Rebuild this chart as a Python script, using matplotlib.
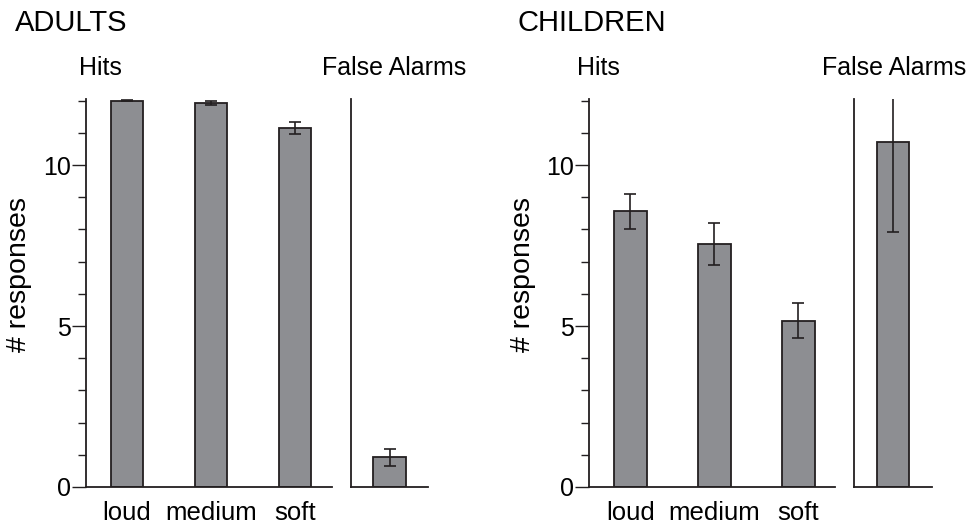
import matplotlib
matplotlib.use("Agg")
import matplotlib.pyplot as plt
from matplotlib.ticker import MultipleLocator

plt.rcParams['font.family'] = ['Liberation Sans', 'DejaVu Sans']

# data
conditions = ['loud', 'medium', 'soft']
adult_hits = [12.0, 11.92, 11.15]
adult_hits_err = [0.02, 0.07, 0.2]
adult_fa = [0.92]
adult_fa_err = [0.26]
child_hits = [8.56, 7.54, 5.17]
child_hits_err = [0.54, 0.65, 0.53]
child_fa = [10.73]
child_fa_err = [2.81]

bar_color = '#8d8e92'
W, H = 970, 529


def fx(px):
    return px / W


def fy(py):
    return 1 - py / H


fig = plt.figure(figsize=(9.7, 5.29), dpi=100)

bottom = fy(487)
height = fy(98.7) - bottom


def style_axis(ax):
    ax.spines['top'].set_visible(False)
    ax.spines['right'].set_visible(False)
    for s in ('left', 'bottom'):
        ax.spines[s].set_linewidth(1.3)
        ax.spines[s].set_color('#231f20')
    ax.set_ylim(0, 12.06)


def draw_group(left_px, hits, hits_err, fa, fa_err):
    ax = fig.add_axes([fx(left_px), bottom, fx(246), height])
    style_axis(ax)
    x = list(range(len(conditions)))
    ax.bar(x, hits, width=0.387, color=bar_color, edgecolor='#231f20', linewidth=1.3)
    ax.errorbar(x, hits, yerr=hits_err, fmt='none', ecolor='#231f20',
                elinewidth=1.2, capsize=4.5, capthick=1.2)
    ax.set_xlim(-0.488, 2.44)
    ax.set_xticks(x)
    ax.set_xticklabels(conditions, fontsize=18.5)
    ax.tick_params(axis='x', length=0, pad=10)
    ax.yaxis.set_major_locator(MultipleLocator(5))
    ax.yaxis.set_minor_locator(MultipleLocator(1))
    ax.tick_params(axis='y', which='major', length=10, width=1.0, labelsize=18,
                   pad=1, color='#231f20')
    ax.tick_params(axis='y', which='minor', length=5.5, width=1.0, color='#231f20')
    ax.set_ylabel('# responses', fontsize=20.5)
    ax.yaxis.set_label_coords(-0.218, 0.547)

    ax2 = fig.add_axes([fx(left_px + 264.7), bottom, fx(77.6), height])
    style_axis(ax2)
    ax2.bar([0], fa, width=0.387, color=bar_color, edgecolor='#231f20', linewidth=1.3)
    ax2.errorbar([0], fa, yerr=fa_err, fmt='none', ecolor='#231f20',
                 elinewidth=1.2, capsize=4.5, capthick=1.2)
    ax2.set_xlim(-0.464, 0.46)
    ax2.set_xticks([])
    ax2.set_yticks([])
    return ax, ax2


draw_group(86, adult_hits, adult_hits_err, adult_fa, adult_fa_err)
draw_group(589.3, child_hits, child_hits_err, child_fa, child_fa_err)

fig.text(fx(15), fy(23), 'ADULTS', fontsize=21, va='center', ha='left')
fig.text(fx(518), fy(23), 'CHILDREN', fontsize=21, va='center', ha='left')
for hx, fax in [(79, 321.7), (577, 821.7)]:
    fig.text(fx(hx), fy(68), 'Hits', fontsize=18, va='center', ha='left')
    fig.text(fx(fax), fy(68), 'False Alarms', fontsize=18, va='center', ha='left')

fig.savefig('out.png', dpi=100)
